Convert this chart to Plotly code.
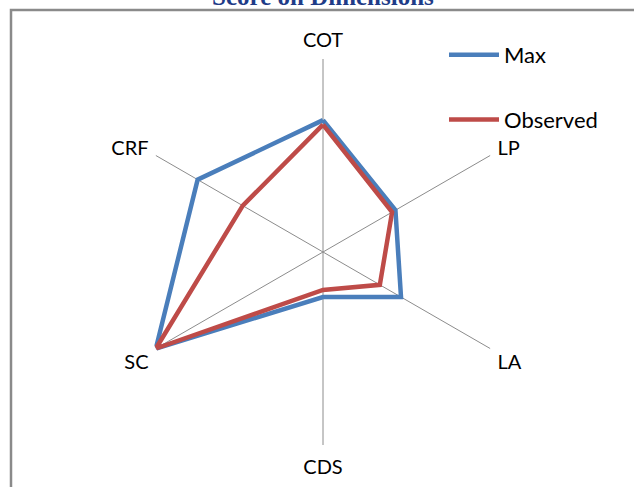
import plotly.graph_objects as go

categories = ["COT", "LP", "LA", "CDS", "SC", "CRF"]
max_vals = [20.5, 13, 14, 7, 30, 22.5]
observed_vals = [19.8, 12.4, 10.2, 5.9, 30, 14.4]
series_names = ["Max", "Observed"]
series_colors = ["#4A7EBB", "#BE4B48"]

W, H = 634, 487
cx, cy, R = 323, 252, 193

fig = go.Figure()
for name, vals, col, grp in zip(series_names, [max_vals, observed_vals], series_colors, ["a", "b"]):
    fig.add_trace(go.Scatterpolar(
        r=vals + vals[:1], theta=categories + categories[:1],
        mode="lines", name=name, legendgroup=grp,
        line=dict(color=col, width=4.5), cliponaxis=False,
    ))

fig.update_layout(
    width=W, height=H,
    margin=dict(l=0, r=0, t=0, b=0),
    paper_bgcolor="white", plot_bgcolor="white",
    font=dict(family="Lato, Liberation Sans, sans-serif", size=20, color="black"),
    polar=dict(
        domain=dict(x=[(cx - R) / W, (cx + R) / W], y=[(H - cy - R) / H, (H - cy + R) / H]),
        bgcolor="white",
        radialaxis=dict(range=[0, 30], visible=False, showgrid=False),
        angularaxis=dict(
            rotation=90, direction="clockwise",
            showline=False, showgrid=True, gridcolor="#8c8c8c", gridwidth=1,
            ticks="outside", ticklen=4, tickcolor="rgba(0,0,0,0)",
            tickfont=dict(size=20, family="Lato, Liberation Sans, sans-serif"),
        ),
    ),
    legend=dict(x=444 / W, y=1 - 34 / H, xanchor="left", yanchor="top",
                itemwidth=50, tracegroupgap=33, traceorder="grouped",
                font=dict(size=22), bgcolor="rgba(0,0,0,0)"),
    annotations=[dict(text="<b>Score on Dimensions</b>", x=cx / W, y=1 + 4 / H,
                      xref="paper", yref="paper", xanchor="center", yanchor="middle",
                      showarrow=False,
                      font=dict(family="Liberation Serif, serif", size=25, color="#1F3C88"))],
    shapes=[dict(type="rect", xref="paper", yref="paper",
                 x0=11 / W, x1=1.05, y0=-0.05, y1=1 - 10 / H,
                 line=dict(color="#8a8a8a", width=2.5), fillcolor="rgba(0,0,0,0)", layer="below")],
)

fig.write_html("out.html", config={"displayModeBar": False},
               post_script="document.body.style.margin='0';")
